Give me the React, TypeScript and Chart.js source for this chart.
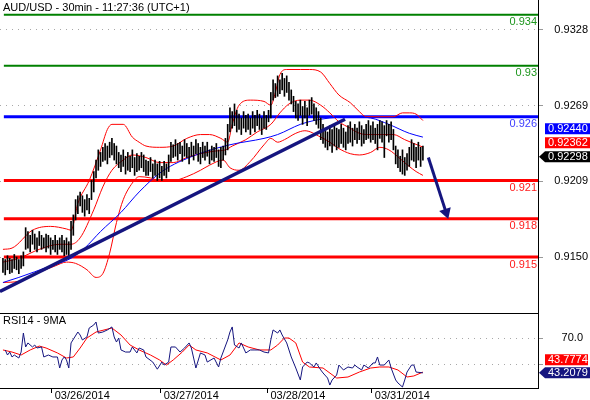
import React, { useEffect, useRef } from 'react';
import { Chart, registerables } from 'chart.js';

Chart.register(...registerables);

// ---------- DATA ----------
const title = 'AUD/USD - 30min - 11:27:36 (UTC+1)';
const rsiTitle = 'RSI14 - 9MA';

// 30-min bars, index 0..185
const barHigh = [
  0.9149, 0.9148, 0.9151, 0.9149, 0.9148, 0.9152, 0.915, 0.9148, 0.9151, 0.9154,
  0.9173, 0.917, 0.9167, 0.9171, 0.9168, 0.9165, 0.917, 0.9167, 0.9165, 0.9168,
  0.9167, 0.9165, 0.9163, 0.9167, 0.9163, 0.9165, 0.9167, 0.9163, 0.9165, 0.9162,
  0.9178, 0.9183, 0.9195, 0.9198, 0.9201, 0.9198, 0.9195, 0.9199, 0.9196, 0.921,
  0.9217, 0.9226, 0.9234, 0.9232, 0.9236, 0.9239, 0.9237, 0.924, 0.9243, 0.9239,
  0.9237, 0.9232, 0.923, 0.9234, 0.9229, 0.9232, 0.9229, 0.9234, 0.9228, 0.9231,
  0.9229, 0.9232, 0.923, 0.9226, 0.9225, 0.9228, 0.9223, 0.9226, 0.9223, 0.9225,
  0.9221, 0.9225, 0.9223, 0.923, 0.924, 0.9238, 0.9242, 0.9239, 0.924, 0.9237,
  0.9242, 0.9239, 0.9236, 0.924, 0.9237, 0.9242, 0.9239, 0.9236, 0.924, 0.9237,
  0.924, 0.9234, 0.9237, 0.9236, 0.9239, 0.9234, 0.9236, 0.9237, 0.9243, 0.9254,
  0.9267, 0.9264, 0.927, 0.9265, 0.9262, 0.9259, 0.9264, 0.9261, 0.9262, 0.9259,
  0.9264, 0.9261, 0.9265, 0.9262, 0.9259, 0.9264, 0.9261, 0.9265, 0.9279, 0.9289,
  0.9286, 0.9292, 0.9289, 0.9294, 0.929, 0.9292, 0.9287, 0.9281, 0.9276, 0.9272,
  0.927, 0.9273, 0.9268, 0.9272, 0.9267, 0.9273, 0.9275, 0.927, 0.9267, 0.9264,
  0.9259, 0.9254, 0.9251, 0.9248, 0.9253, 0.925, 0.9254, 0.9251, 0.925, 0.9254,
  0.9251, 0.9248, 0.9253, 0.9256, 0.9251, 0.9254, 0.9251, 0.9256, 0.9253, 0.925,
  0.9254, 0.9257, 0.9253, 0.9256, 0.9251, 0.9254, 0.9257, 0.9256, 0.9253, 0.9257,
  0.9254, 0.9256, 0.925, 0.9237, 0.9234, 0.9229, 0.9234, 0.9228, 0.9231, 0.9236,
  0.9242, 0.9239, 0.9236, 0.924, 0.9236, 0.9237,
];
const barLow = [
  0.9138, 0.9136, 0.914, 0.9137, 0.9138, 0.9141, 0.914, 0.9137, 0.9141, 0.9143,
  0.9156, 0.9157, 0.9154, 0.916, 0.9156, 0.9154, 0.9159, 0.9156, 0.9157, 0.9154,
  0.9157, 0.9152, 0.9156, 0.9154, 0.9152, 0.9156, 0.9154, 0.9151, 0.9152, 0.9149,
  0.9156, 0.9167, 0.9179, 0.9184, 0.919, 0.9185, 0.9182, 0.9187, 0.9184, 0.9195,
  0.9201, 0.9212, 0.9218, 0.9221, 0.9225, 0.9226, 0.9223, 0.9228, 0.923, 0.9226,
  0.9223, 0.922, 0.9217, 0.9221, 0.9215, 0.9218, 0.9217, 0.922, 0.9214, 0.9217,
  0.9218, 0.922, 0.9217, 0.9214, 0.9214, 0.9217, 0.9212, 0.9214, 0.921, 0.9212,
  0.921, 0.9214, 0.9212, 0.9217, 0.9225, 0.9228, 0.9229, 0.9226, 0.9231, 0.9225,
  0.9229, 0.9228, 0.9223, 0.9229, 0.9226, 0.9231, 0.9225, 0.9223, 0.9228, 0.9226,
  0.9229, 0.9223, 0.9226, 0.9225, 0.9228, 0.9221, 0.922, 0.9226, 0.923, 0.9234,
  0.9248, 0.9251, 0.9253, 0.9248, 0.925, 0.9246, 0.9251, 0.9248, 0.925, 0.9246,
  0.9251, 0.9248, 0.9253, 0.925, 0.9246, 0.9251, 0.925, 0.9256, 0.9259, 0.9273,
  0.9275, 0.9276, 0.9278, 0.9281, 0.9276, 0.9279, 0.9273, 0.927, 0.9264, 0.9259,
  0.9257, 0.9261, 0.9254, 0.9259, 0.9253, 0.9261, 0.9262, 0.9257, 0.9254, 0.9251,
  0.9242, 0.9239, 0.9236, 0.9234, 0.9237, 0.9232, 0.9237, 0.9234, 0.9236, 0.9239,
  0.9236, 0.9234, 0.9239, 0.924, 0.9237, 0.9242, 0.9239, 0.9242, 0.9237, 0.9239,
  0.9242, 0.9243, 0.924, 0.9242, 0.9239, 0.9234, 0.9243, 0.924, 0.9228, 0.9245,
  0.924, 0.9242, 0.9234, 0.9223, 0.922, 0.9217, 0.9215, 0.9214, 0.9218, 0.9221,
  0.9226, 0.9225, 0.922, 0.9226, 0.9221, 0.9226,
];
const lastClose = 0.92298;

// Bollinger bands (20) and moving average
const upperX = [0, 4, 13, 21, 28, 30, 33, 38, 43, 46, 48, 53, 57, 60, 63, 69, 75, 81, 87, 91, 96, 99, 101, 104, 109, 115, 118, 120, 122, 125, 131, 135, 140, 144, 148, 153, 157, 160, 166, 172, 176, 179, 182, 185];
const upperY = [0.9156, 0.9157, 0.9171, 0.9174, 0.9172, 0.9171, 0.9192, 0.921, 0.9234, 0.925, 0.9254, 0.9254, 0.9244, 0.924, 0.9237, 0.9236, 0.9237, 0.9243, 0.9246, 0.9246, 0.9243, 0.924, 0.9254, 0.9269, 0.9273, 0.9272, 0.9269, 0.9279, 0.9293, 0.9297, 0.9297, 0.9297, 0.9295, 0.9286, 0.9277, 0.9271, 0.9264, 0.926, 0.926, 0.926, 0.9263, 0.9263, 0.9262, 0.9257];
const midX = [0, 7, 16, 25, 30, 34, 40, 44, 48, 53, 57, 63, 69, 75, 81, 87, 93, 98, 101, 107, 112, 118, 122, 126, 131, 135, 140, 144, 148, 153, 157, 162, 166, 172, 177, 181, 185];
const midY = [0.9146, 0.9149, 0.9156, 0.916, 0.916, 0.9165, 0.9187, 0.9205, 0.9218, 0.9226, 0.923, 0.9228, 0.9224, 0.9224, 0.9228, 0.9231, 0.9233, 0.9234, 0.9237, 0.9242, 0.9248, 0.9254, 0.9263, 0.927, 0.9273, 0.9273, 0.9269, 0.9263, 0.9256, 0.9251, 0.9247, 0.9246, 0.9246, 0.9246, 0.9242, 0.9239, 0.92362];
const lowerX = [0, 7, 16, 23, 28, 32, 37, 41, 44, 47, 50, 53, 57, 60, 65, 69, 75, 81, 87, 91, 97, 100, 104, 109, 115, 118, 121, 124, 129, 133, 140, 144, 148, 153, 157, 162, 166, 170, 175, 179, 182, 185];
const lowerY = [0.913, 0.9131, 0.9138, 0.9143, 0.9146, 0.9145, 0.914, 0.9134, 0.9137, 0.9153, 0.9177, 0.9195, 0.9208, 0.9213, 0.9212, 0.921, 0.921, 0.9213, 0.9218, 0.9222, 0.9226, 0.922, 0.9218, 0.9225, 0.9238, 0.9243, 0.924, 0.9242, 0.9247, 0.9249, 0.9244, 0.924, 0.9235, 0.9231, 0.923, 0.9232, 0.9236, 0.9234, 0.9227, 0.9221, 0.9217, 0.9214];
const maX = [0, 7, 21, 30, 36, 43, 52, 60, 70, 85, 100, 115, 121, 131, 137, 144, 153, 162, 170, 179, 185];
const maY = [0.913, 0.9134, 0.9143, 0.9149, 0.9157, 0.917, 0.9185, 0.9201, 0.9217, 0.923, 0.9238, 0.9243, 0.9246, 0.9254, 0.9257, 0.9259, 0.926, 0.9259, 0.9254, 0.9247, 0.9244];

// Drawn levels
const levels = [0.934, 0.93, 0.926, 0.921, 0.918, 0.915];
const levelLabels = ['0.934', '0.93', '0.926', '0.921', '0.918', '0.915'];

// Trend line and projection arrow
const trendX = [-1.3, 150.7];
const trendY = [0.9123, 0.9258];
const arrowX = [187.4, 195.2];
const arrowY = [0.9228, 0.9185];

// Price axis ticks
const priceTicks = [0.9328, 0.92687, 0.92093, 0.915];

// RSI panel
const rsiX = [1, 2, 3, 4, 5, 7, 8, 9, 10, 11, 13, 14, 15, 17, 18, 20, 22, 24, 25, 26, 27, 28, 29, 30, 33, 34, 35, 37, 38, 40, 41, 42, 44, 46, 48, 49, 50, 51, 52, 54, 56, 57, 59, 60, 62, 63, 66, 68, 70, 71, 73, 74, 76, 78, 80, 82, 83, 84, 85, 87, 89, 90, 93, 95, 96, 99, 100, 101, 102, 104, 105, 107, 109, 111, 113, 115, 117, 118, 119, 121, 122, 123, 125, 127, 129, 131, 132, 134, 135, 137, 138, 140, 141, 143, 144, 145, 147, 148, 150, 152, 154, 155, 156, 158, 159, 161, 163, 164, 165, 166, 168, 170, 171, 173, 174, 176, 177, 178, 180, 181, 182, 185];
const rsiY = [60.8, 56.9, 59.2, 55.4, 56.9, 54.6, 59.2, 73.8, 63.1, 66.2, 63.1, 64.6, 62.3, 63.1, 55.4, 56.9, 55.4, 55.4, 46.9, 53.1, 55.4, 53.1, 46.9, 66.2, 74.6, 72.3, 68.5, 70.8, 77.7, 80.0, 82.3, 73.8, 74.6, 76.2, 78.5, 70.8, 66.9, 70.0, 60.8, 59.2, 59.2, 63.1, 58.5, 62.3, 60.8, 55.4, 51.5, 46.0, 51.5, 49.2, 51.5, 63.1, 63.1, 59.2, 62.3, 66.2, 62.3, 54.6, 46.9, 58.5, 56.9, 51.5, 54.6, 47.7, 54.6, 68.5, 74.6, 78.5, 64.6, 62.3, 66.2, 58.5, 60.8, 60.8, 60.8, 59.2, 58.5, 68.5, 76.2, 73.8, 76.2, 72.3, 66.2, 55.4, 46.9, 37.7, 47.7, 51.5, 50.8, 47.7, 50.8, 45.4, 43.1, 39.2, 33.8, 37.7, 41.5, 49.2, 45.4, 47.7, 46.9, 49.2, 47.7, 45.4, 49.2, 46.9, 50.8, 50.8, 55.4, 49.2, 49.2, 53.1, 46.9, 37.7, 35.4, 32.3, 37.7, 43.8, 49.2, 49.2, 43.8, 43.2079];
const rsiMaX = [0, 4, 8, 12, 16, 19, 24, 28, 31, 34, 37, 41, 48, 52, 56, 60, 65, 69, 72, 75, 79, 82, 85, 90, 96, 100, 104, 108, 113, 118, 121, 124, 126, 129, 132, 135, 141, 147, 152, 157, 162, 166, 170, 174, 178, 181, 185];
const rsiMaY = [60.8, 59.2, 56.9, 60.8, 63.8, 62.3, 58.5, 54.6, 55.4, 62.3, 70.0, 74.6, 77.7, 72.3, 64.6, 60.8, 56.9, 53.1, 49.2, 53.1, 59.2, 64.6, 60.8, 58.5, 53.1, 56.9, 66.2, 63.1, 60.8, 60.8, 64.6, 70.0, 70.0, 66.2, 51.5, 47.7, 46.9, 39.2, 40.0, 43.8, 46.9, 47.7, 47.7, 45.4, 40.0, 40.8, 43.7774];
const rsiTicks = [70, 50];

// Date axis
const dayTicks = [21.5, 69.5, 116.5, 162.5];
const dayLabels = ['03/26/2014', '03/27/2014', '03/28/2014', '03/31/2014'];

// ---------- STYLE / LAYOUT ----------
const X_MIN = -1.3;
const X_MAX = 235.7;
const P_MIN = 0.91061;
const P_MAX = 0.93515;
const R_MIN = 31.54;
const R_MAX = 89.23;
const FONT_FAMILY = "'Liberation Sans', Arial, sans-serif";
const FONT = '11px ' + FONT_FAMILY;
const NAVY = '#15157f';
const levelColors = ['#008000', '#008000', '#0000ff', '#ff0000', '#ff0000', '#ff0000'];
const levelTextColors = ['#1d961d', '#1d961d', '#3c3cff', '#ff1a1a', '#ff1a1a', '#ff1a1a'];
const levelWidths = [2, 2, 3, 3, 3, 3];

const pts = (xs: number[], ys: number[]) => xs.map((x, i) => ({ x, y: ys[i] }));

function badge(ctx: any, x: number, yc: number, w: number, h: number, fill: string, text: string, arrow: boolean) {
  ctx.save();
  ctx.fillStyle = fill;
  ctx.beginPath();
  if (arrow) {
    ctx.moveTo(x - 6, yc);
    ctx.lineTo(x, yc - h / 2);
    ctx.lineTo(x + w, yc - h / 2);
    ctx.lineTo(x + w, yc + h / 2);
    ctx.lineTo(x, yc + h / 2);
    ctx.closePath();
  } else {
    ctx.rect(x, yc - h / 2, w, h);
  }
  ctx.fill();
  ctx.fillStyle = '#ffffff';
  ctx.font = FONT;
  ctx.textAlign = 'left';
  ctx.textBaseline = 'middle';
  ctx.fillText(text, x + 3, yc + 0.5);
  ctx.restore();
}

const mainOverlay = {
  id: 'mainOverlay',
  afterDatasetsDraw(chart: any) {
    const { ctx, chartArea, scales } = chart;
    const y = scales.y;
    ctx.save();
    ctx.font = FONT;
    ctx.textAlign = 'right';
    ctx.textBaseline = 'alphabetic';
    levels.forEach((v, k) => {
      ctx.fillStyle = levelTextColors[k];
      ctx.fillText(levelLabels[k], chartArea.right - 1, y.getPixelForValue(v) + 10.5);
    });
    ctx.textAlign = 'left';
    ctx.fillStyle = '#000000';
    ctx.fillText(title, 3, 11);
    ctx.restore();
  },
  afterDraw(chart: any) {
    const { ctx, scales } = chart;
    const y = scales.y;
    const yClose = y.getPixelForValue(lastClose) + 1.5;
    const yMid = Math.min(y.getPixelForValue(midY[midY.length - 1]), yClose - 14);
    const yMa = Math.min(y.getPixelForValue(maY[maY.length - 1]), yMid - 14);
    badge(ctx, 545, yMa, 45, 11, '#0000ff', maY[maY.length - 1].toFixed(5), false);
    badge(ctx, 545, yMid, 45, 11, '#ff0000', midY[midY.length - 1].toFixed(5), false);
    badge(ctx, 545, yClose, 45, 11, '#000000', lastClose.toFixed(5), true);
  },
};

const rsiOverlay = {
  id: 'rsiOverlay',
  afterDatasetsDraw(chart: any) {
    const { ctx, chartArea } = chart;
    ctx.save();
    ctx.strokeStyle = '#000000';
    ctx.lineWidth = 1;
    ctx.beginPath();
    ctx.moveTo(0, chartArea.top + 0.5);
    ctx.lineTo(chartArea.right, chartArea.top + 0.5);
    ctx.stroke();
    ctx.font = FONT;
    ctx.fillStyle = '#000000';
    ctx.textAlign = 'left';
    ctx.textBaseline = 'alphabetic';
    ctx.fillText(rsiTitle, 3, chartArea.top + 10.5);
    ctx.restore();
  },
  afterDraw(chart: any) {
    const { ctx, scales } = chart;
    const y = scales.y;
    const rsiLast = rsiY[rsiY.length - 1];
    const maLast = rsiMaY[rsiMaY.length - 1];
    const yR = y.getPixelForValue(rsiLast);
    const yM = Math.min(y.getPixelForValue(maLast), yR - 13);
    badge(ctx, 545, yM, 43, 11, '#ff0000', maLast.toFixed(4), false);
    badge(ctx, 545, yR, 45, 11, NAVY, rsiLast.toFixed(4), true);
  },
};

const lineDs = (data: any[], color: string, width: number, order: number, extra: any = {}) => ({
  type: 'line',
  data,
  borderColor: color,
  borderWidth: width,
  pointRadius: 0,
  fill: false,
  order,
  ...extra,
});

function mainConfig(): any {
  const datasets: any[] = [];
  levels.forEach((v, k) => {
    datasets.push(lineDs([{ x: 0.4, y: v }, { x: X_MAX, y: v }], levelColors[k], levelWidths[k], 10));
  });
  datasets.push(lineDs(pts(maX, maY), '#0000ff', 1, 8, { cubicInterpolationMode: 'monotone' }));
  datasets.push(lineDs(pts(upperX, upperY), '#ff0000', 1, 8, { cubicInterpolationMode: 'monotone' }));
  datasets.push(lineDs(pts(midX, midY), '#ff0000', 1, 8, { cubicInterpolationMode: 'monotone' }));
  datasets.push(lineDs(pts(lowerX, lowerY), '#ff0000', 1, 8, { cubicInterpolationMode: 'monotone' }));
  datasets.push({
    type: 'bar',
    data: barLow.map((lo, i) => ({ x: i, y: [lo, barHigh[i]] })),
    backgroundColor: '#000000',
    borderWidth: 0,
    barThickness: 1,
    grouped: false,
    order: 5,
  });
  datasets.push(lineDs(pts(trendX, trendY), NAVY, 3.5, 1));
  datasets.push(
    lineDs(pts(arrowX, arrowY), NAVY, 3, 1, {
      pointRadius: [0, 7],
      pointStyle: 'triangle',
      pointRotation: 161.6,
      pointBackgroundColor: NAVY,
      pointBorderColor: NAVY,
      pointBorderWidth: 0,
    })
  );
  return {
    type: 'line',
    data: { datasets },
    plugins: [mainOverlay],
    options: {
      responsive: false,
      devicePixelRatio: 1,
      animation: false,
      events: [],
      layout: { autoPadding: false, padding: { left: 0, top: 0, bottom: 0, right: 2 } },
      plugins: { legend: { display: false }, tooltip: { enabled: false }, title: { display: false } },
      scales: {
        x: { type: 'linear', min: X_MIN, max: X_MAX, offset: false, display: false },
        y: {
          type: 'linear',
          position: 'right',
          min: P_MIN,
          max: P_MAX,
          afterBuildTicks: (s: any) => {
            s.ticks = priceTicks.map((v) => ({ value: v }));
          },
          afterFit: (s: any) => {
            s.width = 50;
            s.paddingTop = 0;
            s.paddingBottom = 0;
          },
          ticks: {
            callback: (v: number) => Number(v).toFixed(4),
            crossAlign: 'far',
            color: '#000000',
            font: { family: FONT_FAMILY, size: 11 },
          },
          grid: { color: '#a8a8a8', tickColor: '#999999', tickLength: 5, tickBorderDash: [] },
          border: { display: true, color: '#000000', width: 1, dash: [1, 5] },
        },
      },
    },
  };
}

function rsiConfig(): any {
  return {
    type: 'line',
    data: {
      datasets: [
        lineDs(pts(rsiMaX, rsiMaY), '#ff0000', 1, 2),
        lineDs(pts(rsiX, rsiY), NAVY, 1, 1),
      ],
    },
    plugins: [rsiOverlay],
    options: {
      responsive: false,
      devicePixelRatio: 1,
      animation: false,
      events: [],
      layout: { autoPadding: false, padding: { left: 0, top: 0, bottom: 0, right: 7 } },
      plugins: { legend: { display: false }, tooltip: { enabled: false } },
      scales: {
        x: {
          type: 'linear',
          min: X_MIN,
          max: X_MAX,
          offset: false,
          afterBuildTicks: (s: any) => {
            s.ticks = dayTicks.map((v) => ({ value: v }));
          },
          afterFit: (s: any) => {
            s.height = 12;
            s.paddingLeft = 0;
            s.paddingRight = 0;
          },
          ticks: {
            callback: (_v: number, i: number) => dayLabels[i],
            align: 'start',
            labelOffset: 3,
            padding: -4,
            autoSkip: false,
            maxRotation: 0,
            color: '#000000',
            font: { family: FONT_FAMILY, size: 11 },
          },
          grid: { drawOnChartArea: false, drawTicks: true, tickLength: 5, tickColor: '#000000' },
          border: { display: true, color: '#000000', width: 1 },
        },
        y: {
          type: 'linear',
          position: 'right',
          min: R_MIN,
          max: R_MAX,
          afterBuildTicks: (s: any) => {
            s.ticks = rsiTicks.map((v) => ({ value: v }));
          },
          afterFit: (s: any) => {
            s.width = 45;
            s.paddingTop = 0;
            s.paddingBottom = 0;
          },
          ticks: {
            callback: (v: number) => (v === 70 ? Number(v).toFixed(1) : ''),
            crossAlign: 'far',
            color: '#000000',
            font: { family: FONT_FAMILY, size: 11 },
          },
          grid: { color: '#a8a8a8', tickColor: '#999999', tickLength: 5, tickBorderDash: [] },
          border: { display: true, color: '#000000', width: 1, dash: [1, 5] },
        },
      },
    },
  };
}

export default function App() {
  const mainRef = useRef<HTMLCanvasElement>(null);
  const rsiRef = useRef<HTMLCanvasElement>(null);
  useEffect(() => {
    const c1 = new Chart(mainRef.current as HTMLCanvasElement, mainConfig());
    const c2 = new Chart(rsiRef.current as HTMLCanvasElement, rsiConfig());
    return () => {
      c1.destroy();
      c2.destroy();
    };
  }, []);
  return (
    <div style={{ position: 'absolute', left: 0, top: 0, width: 590, height: 400, background: '#ffffff', overflow: 'hidden' }}>
      <canvas ref={mainRef} width={590} height={313} style={{ position: 'absolute', left: 0, top: 0, width: 590, height: 313 }} />
      <canvas ref={rsiRef} width={590} height={87} style={{ position: 'absolute', left: 0, top: 313, width: 590, height: 87 }} />
    </div>
  );
}
